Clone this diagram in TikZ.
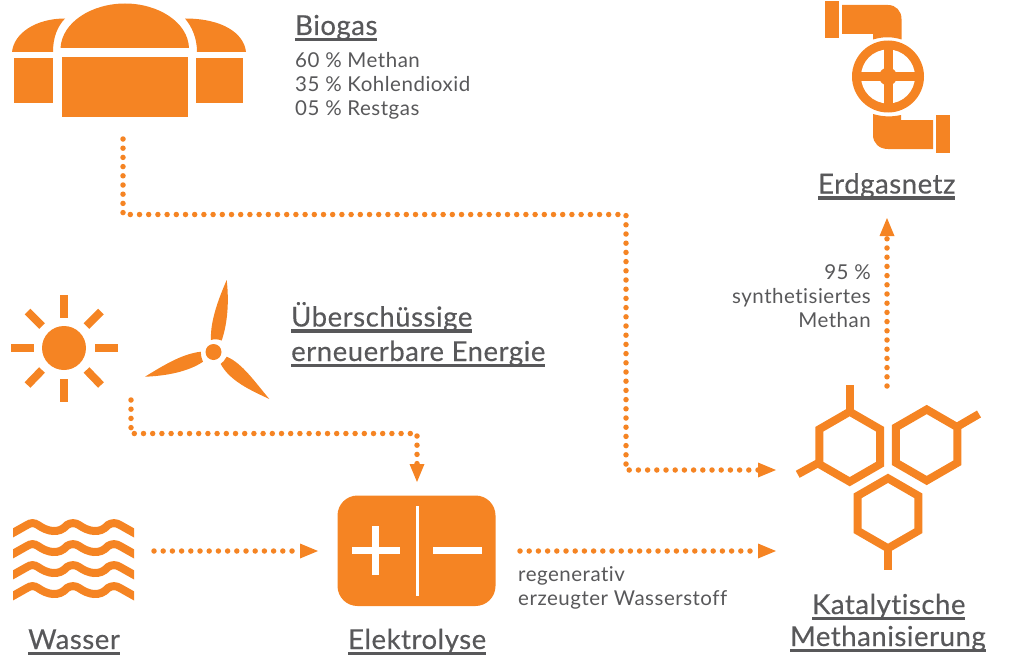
\documentclass[tikz,border=0pt]{standalone}
\usepackage{fontspec}
\setmainfont{Lato}
\newfontfamily\headfont[FakeBold=0.35,LetterSpace=2,Ligatures=CommonOff]{Lato}
\newfontfamily\bodyfont[LetterSpace=2.5,Ligatures=CommonOff]{Lato}
\usetikzlibrary{arrows.meta}
\definecolor{orng}{HTML}{F58423}
\definecolor{txtgrey}{HTML}{58585A}
\newcommand\headline[1]{\setbox0\hbox{#1}\rlap{\rule[-6pt]{\wd0}{3.4pt}}\box0}
\tikzset{
  x=1pt,y=-1pt,
  flow/.style={draw=orng,line width=5.5pt,line cap=round,dash pattern=on 0pt off 9.2pt,
    -{Triangle[length=18pt,width=15pt,line width=0pt,sep=0pt]}},
  title/.style={anchor=base west,inner sep=0pt,text=txtgrey,font=\headfont\fontsize{27.5}{29}\selectfont},
  body/.style={anchor=north west,inner sep=0pt,text=txtgrey,align=left,font=\bodyfont\fontsize{20.5}{24}\selectfont},
  hexa/.style={draw=orng,line width=8pt,miter limit=10},
  stub/.style={draw=orng,line width=8pt},
  wave/.style={draw=orng,line width=8pt}
}
\begin{document}
\begin{tikzpicture}
\useasboundingbox (0,0) rectangle (1017,669);
% ---- Biogas plant
\fill[orng] (60.5,48) .. controls (62,22) and (92,3.5) .. (125,3.5) .. controls (158,3.5) and (188,22) .. (189,48) -- cycle;
\fill[orng] (62,57) rectangle (188,117);
\fill[orng] (12,52) .. controls (14,33) and (36,18.5) .. (65,18.5) .. controls (57,27) and (53,38) .. (53,52) -- cycle;
\fill[orng] (14,58) rectangle (53,103);
\fill[orng] (246,52) .. controls (244,33) and (222,18.5) .. (185,18.5) .. controls (192,27) and (197,38) .. (197,52) -- cycle;
\fill[orng] (196,58) rectangle (243,103);
% ---- Pipe and valve
\fill[orng] (825,1) rectangle (839,38);
\fill[orng] (842,5) -- (888,5) .. controls (896,5) and (901.5,11) .. (901.5,19) -- (901.5,39.5) .. controls (892,36.5) and (883,36.5) .. (873,39.5) -- (873,34) -- (842,34) -- cycle;
\fill[orng] (936,115) rectangle (950,153);
\fill[orng] (873,114) .. controls (883,117) and (892,117) .. (901,115) -- (901,120) -- (933,120) -- (933,149) -- (888,149) .. controls (879,149) and (873,143) .. (873,135) -- cycle;
\fill[orng] (888,76.5) circle (36);
\fill[white] (888,76.5) circle (27);
\fill[orng] (883.5,45) rectangle (892.5,108);
\fill[orng] (856,72) rectangle (920,81);
\fill[orng] (888,76.5) circle (9);
% ---- Sun
\fill[orng] (64,348) circle (22);
\fill[orng] (60,295) rectangle (68,318);
\fill[orng] (60,379) rectangle (68,402);
\fill[orng] (11,344) rectangle (34,352);
\fill[orng] (95,344) rectangle (118,352);
\draw[orng,line width=8pt] (27.5,311.5) -- (42,326);
\draw[orng,line width=8pt] (101,311.5) -- (86.5,326);
\draw[orng,line width=8pt] (27.5,385) -- (42,370);
\draw[orng,line width=8pt] (101,385) -- (86.5,370);
% ---- Wind turbine
\fill[orng] (213.5,352) circle (8);
\fill[orng] (211,340) .. controls (210,322) and (218,300) .. (226.7,280) .. controls (229,300) and (228,322) .. (221.7,340.5) .. controls (218,339) and (214,339) .. (211,340) -- cycle;
\fill[orng] (200.7,351.7) .. controls (182,354) and (164,365) .. (145,376.7) .. controls (165,376) and (188,372) .. (203,361.7) .. controls (201.5,358) and (200.7,355) .. (200.7,351.7) -- cycle;
\fill[orng] (226.7,356.7) .. controls (242,363) and (255,382) .. (269.3,399) .. controls (250,390) and (230,381) .. (220.7,364) .. controls (223,362) and (225,360) .. (226.7,356.7) -- cycle;
% ---- Water waves
\begin{scope}
\clip (13,510) rectangle (134,610);
\foreach \dy in {0,21,42,63}{
  \draw[wave,yshift=-\dy pt] (3,538.5) -- (27,525) .. controls (31,522.5) and (34,522.5) .. (38,525)
    .. controls (47,531.5) and (59,534.5) .. (67,525) .. controls (71,522.5) and (75,522.5) .. (79,525)
    .. controls (88,531.5) and (100,534.5) .. (108,525) .. controls (112,522.5) and (116,522.5) .. (120,525) -- (144,538.5);
}
\end{scope}
% ---- Electrolysis cell
\fill[orng,rounded corners=20pt] (337.5,495.5) rectangle (495.5,606);
\fill[white] (415.5,506) rectangle (418.5,596);
\fill[white] (352,547) rectangle (400,554);
\fill[white] (372,526) rectangle (379,575);
\fill[white] (433,547) rectangle (482,554);
% ---- Molecules
\draw[hexa] (849.7,446.7) ++(90:35) -- ++(-30:35) -- ++(-90:35) -- ++(-150:35) -- ++(150:35) -- ++(90:35) -- cycle;
\draw[hexa] (926.7,445) ++(90:35.5) -- ++(-30:35.5) -- ++(-90:35.5) -- ++(-150:35.5) -- ++(150:35.5) -- ++(90:35.5) -- cycle;
\draw[hexa] (888,513.3) ++(90:35) -- ++(-30:35) -- ++(-90:35) -- ++(-150:35) -- ++(150:35) -- ++(90:35) -- cycle;
\draw[stub] (849.7,385) -- (849.7,410);
\draw[stub] (797.7,474.3) -- (821,461.5);
\draw[stub] (979,414) -- (955,428);
\draw[stub] (888,550) -- (888,570);
% ---- Anchor points of the connectors
\coordinate (biogasOut) at (123,139);
\coordinate (bendA) at (123,214.5);
\coordinate (bendB) at (626,214.5);
\coordinate (bendC) at (626,470);
\coordinate (methIn) at (776,470);
\coordinate (energyOut) at (131,400);
\coordinate (bendD) at (131,433.5);
\coordinate (bendE) at (417,433.5);
\coordinate (elecTop) at (417,482);
\coordinate (waterOut) at (154,551);
\coordinate (elecIn) at (318,551);
\coordinate (elecOut) at (520,551);
\coordinate (methIn2) at (776,551);
\coordinate (methOut) at (887,386);
\coordinate (gridIn) at (887,218);
\draw[flow] (biogasOut) -- (bendA) -- (bendB) -- (bendC) -- (methIn);
\draw[flow] (energyOut) -- (bendD) -- (bendE) -- (elecTop);
\draw[flow] (waterOut) -- (elecIn);
\draw[flow] (elecOut) -- (methIn2);
\draw[flow] (methOut) -- (gridIn);
% ---- Texts
\node[title] (tBiogas) at (295,35) {\headline{Biogas}};
\node[body] (tBiogasMix) at (295,52.5) {60 \% Methan\\35 \% Kohlendioxid\\05 \% Restgas};
\node[title] (tEnergy1) at (291,326.5) {\headline{Überschüssige}};
\node[title] (tEnergy2) at (291,361) {\headline{erneuerbare Energie}};
\node[title] (tGrid) at (818,193.5) {\headline{Erdgasnetz}};
\node[title] (tWater) at (28,649) {\headline{Wasser}};
\node[title] (tElec) at (348,649) {\headline{Elektrolyse}};
\node[title] (tKat1) at (812,614) {\headline{Katalytische}};
\node[title] (tKat2) at (790,646) {\headline{Methanisierung}};
\node[body,anchor=north east,align=right] (tMethan) at (871,264) {95 \%\\synthetisiertes\\Methan};
\node[body] (tHydrogen) at (518,566.5) {regenerativ\\erzeugter Wasserstoff};
\end{tikzpicture}
\end{document}
